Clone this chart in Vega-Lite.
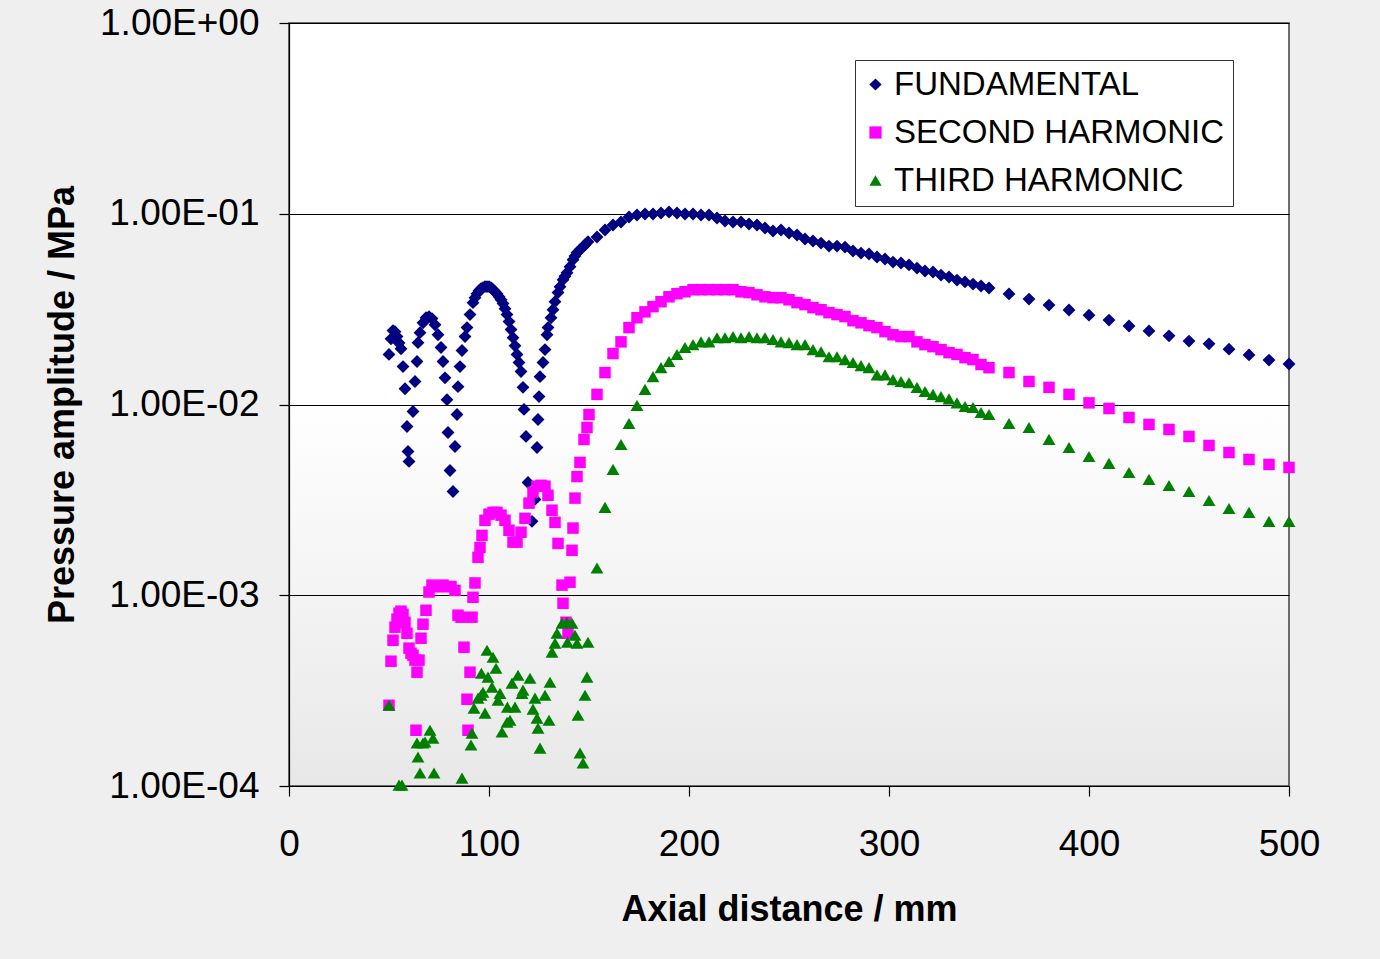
{
  "$schema": "https://vega.github.io/schema/vega-lite/v6.json",
  "width": 1000,
  "height": 763,
  "autosize": {"type": "none"},
  "padding": {"left": 289, "top": 23, "right": 91, "bottom": 173},
  "background": "#efefef",
  "config": {
    "font": "Liberation Sans",
    "view": {
      "fill": {"gradient": "linear", "x1": 0, "y1": 0, "x2": 0, "y2": 1,
        "stops": [{"offset": 0, "color": "#ffffff"}, {"offset": 0.49, "color": "#ffffff"}, {"offset": 1, "color": "#e8e8e8"}]},
      "stroke": "#404040",
      "strokeWidth": 1.5
    },
    "axis": {
      "labelFont": "Liberation Sans",
      "titleFont": "Liberation Sans",
      "labelColor": "#000000",
      "titleColor": "#000000",
      "labelFontSize": 37,
      "titleFontSize": 36,
      "titleFontWeight": "bold",
      "domainColor": "#000000",
      "domainWidth": 1.2,
      "tickColor": "#000000",
      "tickWidth": 1.2,
      "tickSize": 10,
      "labelFlush": false,
      "labelOverlap": false
    }
  },
  "encoding": {
    "x": {
      "field": "x", "type": "quantitative",
      "scale": {"domain": [0, 500], "nice": false, "zero": false},
      "axis": {"values": [0, 100, 200, 300, 400, 500], "grid": false, "labelPadding": 30, "titlePadding": 30, "title": "Axial distance / mm"}
    },
    "y": {
      "field": "p", "type": "quantitative",
      "scale": {"type": "log", "domain": [0.0001, 1], "nice": false},
      "axis": {
        "values": [0.0001, 0.001, 0.01, 0.1, 1],
        "grid": true, "gridColor": "#000000", "gridWidth": 1.2,
        "labelPadding": 20, "titlePadding": 18,
        "labelExpr": "datum.value >= 1 ? '1.00E+00' : '1.00E-0' + round(-log(datum.value) / LN10)",
        "title": "Pressure amplitude / MPa"
      }
    }
  },
  "layer": [
    {
      "data": {"values": [
        {"x": 50, "p": 0.0183}, {"x": 51, "p": 0.0221}, {"x": 52, "p": 0.0244}, {"x": 53, "p": 0.0241}, {"x": 54, "p": 0.0227}, {"x": 55, "p": 0.021}, {"x": 56, "p": 0.0196}, {"x": 57, "p": 0.0158}, {"x": 58, "p": 0.0121}, {"x": 59, "p": 0.00767}, {"x": 59.5, "p": 0.00567}, {"x": 60, "p": 0.00503},
        {"x": 62, "p": 0.00919}, {"x": 63, "p": 0.0132}, {"x": 64, "p": 0.0168}, {"x": 64.5, "p": 0.0211}, {"x": 65.5, "p": 0.0238}, {"x": 67, "p": 0.0268}, {"x": 68.5, "p": 0.0285}, {"x": 70, "p": 0.0289}, {"x": 71.5, "p": 0.0282}, {"x": 73, "p": 0.0262}, {"x": 74.5, "p": 0.0232}, {"x": 76, "p": 0.0199}, {"x": 77, "p": 0.0168}, {"x": 78, "p": 0.0138}, {"x": 79, "p": 0.0106}, {"x": 79.5, "p": 0.00713}, {"x": 80.5, "p": 0.00451}, {"x": 82, "p": 0.0035},
        {"x": 83, "p": 0.00602}, {"x": 84, "p": 0.00886}, {"x": 84.5, "p": 0.0124}, {"x": 85.5, "p": 0.0158}, {"x": 86.5, "p": 0.0192}, {"x": 88, "p": 0.0227}, {"x": 89, "p": 0.0253}, {"x": 90.5, "p": 0.0296}, {"x": 92, "p": 0.0342}, {"x": 93, "p": 0.0363}, {"x": 94, "p": 0.0381}, {"x": 95, "p": 0.0395}, {"x": 96, "p": 0.0405}, {"x": 97, "p": 0.041}, {"x": 98, "p": 0.0415}, {"x": 99, "p": 0.0415}, {"x": 100, "p": 0.0415}, {"x": 101, "p": 0.041}, {"x": 102, "p": 0.04}, {"x": 103, "p": 0.039}, {"x": 104, "p": 0.0381}, {"x": 105, "p": 0.0367}, {"x": 106, "p": 0.0354}, {"x": 107, "p": 0.0338}, {"x": 108, "p": 0.0318}, {"x": 109, "p": 0.0296}, {"x": 110, "p": 0.0272}, {"x": 111, "p": 0.0247}, {"x": 112, "p": 0.0224}, {"x": 113, "p": 0.0203}, {"x": 114, "p": 0.0183}, {"x": 115, "p": 0.0166}, {"x": 116, "p": 0.0149}, {"x": 117, "p": 0.0123}, {"x": 117.5, "p": 0.00942}, {"x": 118.5, "p": 0.0068}, {"x": 119.5, "p": 0.0039}, {"x": 121.5, "p": 0.00244},
        {"x": 123, "p": 0.00318}, {"x": 124, "p": 0.00595}, {"x": 124.5, "p": 0.00834}, {"x": 125, "p": 0.011}, {"x": 125.5, "p": 0.014}, {"x": 127, "p": 0.0166}, {"x": 128, "p": 0.0194}, {"x": 129, "p": 0.0232}, {"x": 129.5, "p": 0.0253}, {"x": 131, "p": 0.0285}, {"x": 132, "p": 0.0314}, {"x": 133, "p": 0.0346}, {"x": 134.5, "p": 0.0386}, {"x": 135.5, "p": 0.0414}, {"x": 137, "p": 0.0451}, {"x": 138, "p": 0.047}, {"x": 139, "p": 0.0491}, {"x": 140.5, "p": 0.0528}, {"x": 142, "p": 0.0574}, {"x": 143, "p": 0.06}, {"x": 144, "p": 0.0625}, {"x": 145.5, "p": 0.0648}, {"x": 147, "p": 0.067}, {"x": 148, "p": 0.0688}, {"x": 149.5, "p": 0.0713},
        {"x": 154, "p": 0.0755}, {"x": 158, "p": 0.0822}, {"x": 162, "p": 0.0873}, {"x": 166, "p": 0.0905}, {"x": 170, "p": 0.0961}, {"x": 174, "p": 0.0985}, {"x": 178, "p": 0.0997}, {"x": 182, "p": 0.0997}, {"x": 186, "p": 0.1009}, {"x": 190, "p": 0.1021}, {"x": 194, "p": 0.1009}, {"x": 198, "p": 0.0997}, {"x": 202, "p": 0.0997}, {"x": 206, "p": 0.0985}, {"x": 210, "p": 0.0985}, {"x": 214, "p": 0.095}, {"x": 218, "p": 0.0916}, {"x": 222, "p": 0.0905}, {"x": 226, "p": 0.0905}, {"x": 230, "p": 0.0884}, {"x": 234, "p": 0.0873}, {"x": 238, "p": 0.0842}, {"x": 242, "p": 0.0812}, {"x": 246, "p": 0.0822}, {"x": 250, "p": 0.0793}, {"x": 254, "p": 0.0774}, {"x": 258, "p": 0.0737}, {"x": 262, "p": 0.072}, {"x": 266, "p": 0.0702}, {"x": 270, "p": 0.0677}, {"x": 274, "p": 0.0677}, {"x": 278, "p": 0.0669}, {"x": 282, "p": 0.0638}, {"x": 286, "p": 0.0622}, {"x": 290, "p": 0.0615}, {"x": 294, "p": 0.0593}, {"x": 298, "p": 0.0579}, {"x": 302, "p": 0.0558}, {"x": 306, "p": 0.0552}, {"x": 310, "p": 0.0539}, {"x": 314, "p": 0.0519}, {"x": 318, "p": 0.0501}, {"x": 322, "p": 0.0495}, {"x": 326, "p": 0.0477}, {"x": 330, "p": 0.0466}, {"x": 334, "p": 0.0449}, {"x": 338, "p": 0.0439}, {"x": 342, "p": 0.0428}, {"x": 346, "p": 0.0418}, {"x": 350, "p": 0.0408},
        {"x": 360, "p": 0.038}, {"x": 370, "p": 0.0357}, {"x": 380, "p": 0.0332}, {"x": 390, "p": 0.0313}, {"x": 400, "p": 0.0294}, {"x": 410, "p": 0.0277}, {"x": 420, "p": 0.0258}, {"x": 430, "p": 0.0243}, {"x": 440, "p": 0.0229}, {"x": 450, "p": 0.0215}, {"x": 460, "p": 0.0208}, {"x": 470, "p": 0.0195}, {"x": 480, "p": 0.0182}, {"x": 490, "p": 0.0171}, {"x": 500, "p": 0.0163}
      ]},
      "mark": {"type": "point", "filled": true, "size": 165, "opacity": 1, "strokeWidth": 0},
      "encoding": {
        "color": {
          "datum": "FUNDAMENTAL", "type": "nominal",
          "scale": {"domain": ["FUNDAMENTAL", "SECOND HARMONIC", "THIRD HARMONIC"], "range": ["#000080", "#ff00ff", "#008000"]},
          "legend": {
            "title": null, "orient": "none", "legendX": 566, "legendY": 37,
            "padding": 8, "strokeColor": "#333333", "fillColor": "#ffffff",
            "labelFont": "Liberation Sans", "labelFontSize": 33, "labelColor": "#000000", "labelLimit": 0,
            "symbolSize": 150, "symbolOffset": -4, "labelOffset": 2, "rowPadding": 14, "symbolStrokeWidth": 0
          }
        },
        "shape": {
          "datum": "FUNDAMENTAL", "type": "nominal",
          "scale": {"domain": ["FUNDAMENTAL", "SECOND HARMONIC", "THIRD HARMONIC"], "range": ["diamond", "square", "triangle-up"]}
        }
      }
    },
    {
      "data": {"values": [
        {"x": 50, "p": 0.000265}, {"x": 51, "p": 0.000451}, {"x": 52, "p": 0.000581}, {"x": 53, "p": 0.00068}, {"x": 54, "p": 0.000749}, {"x": 55, "p": 0.000805}, {"x": 56, "p": 0.000825}, {"x": 57, "p": 0.000795}, {"x": 58, "p": 0.000722}, {"x": 59, "p": 0.000632}, {"x": 60, "p": 0.000528}, {"x": 61, "p": 0.000497}, {"x": 62, "p": 0.000485}, {"x": 63, "p": 0.000457}, {"x": 63.5, "p": 0.000196}, {"x": 64, "p": 0.000395}, {"x": 65, "p": 0.000457}, {"x": 66, "p": 0.000595}, {"x": 67, "p": 0.000705}, {"x": 68.5, "p": 0.000834}, {"x": 70, "p": 0.00104}, {"x": 71.5, "p": 0.00113}, {"x": 73, "p": 0.00111}, {"x": 75, "p": 0.00111}, {"x": 77, "p": 0.00113}, {"x": 79, "p": 0.00111}, {"x": 81, "p": 0.00111}, {"x": 83, "p": 0.00106}, {"x": 84.5, "p": 0.000786}, {"x": 86, "p": 0.000767}, {"x": 87.5, "p": 0.000534}, {"x": 89, "p": 0.000285}, {"x": 89.5, "p": 0.000196}, {"x": 90.5, "p": 0.000395}, {"x": 91.5, "p": 0.000767}, {"x": 92, "p": 0.000976}, {"x": 93, "p": 0.00116}, {"x": 94.5, "p": 0.00158}, {"x": 95.5, "p": 0.00178}, {"x": 96.5, "p": 0.00206}, {"x": 98, "p": 0.00247}, {"x": 100, "p": 0.00266}, {"x": 102, "p": 0.00272}, {"x": 104, "p": 0.00272}, {"x": 106, "p": 0.00263}, {"x": 108, "p": 0.00247}, {"x": 110, "p": 0.00219}, {"x": 112, "p": 0.0019}, {"x": 114, "p": 0.0019}, {"x": 116, "p": 0.00214}, {"x": 118, "p": 0.00253}, {"x": 120, "p": 0.00304}, {"x": 122, "p": 0.00347}, {"x": 124, "p": 0.00373}, {"x": 126, "p": 0.00377}, {"x": 128, "p": 0.00373}, {"x": 129.5, "p": 0.00334}, {"x": 131.5, "p": 0.00279}, {"x": 133, "p": 0.00241}, {"x": 134.5, "p": 0.00187}, {"x": 136.5, "p": 0.00113}, {"x": 137, "p": 0.000908}, {"x": 138.5, "p": 0.000722}, {"x": 139.5, "p": 0.000632}, {"x": 140.5, "p": 0.00117}, {"x": 141.5, "p": 0.00172}, {"x": 142, "p": 0.00225}, {"x": 143, "p": 0.00323}, {"x": 144, "p": 0.00419}, {"x": 145.5, "p": 0.00497}, {"x": 147.5, "p": 0.00656}, {"x": 149, "p": 0.00758}, {"x": 150, "p": 0.00886},
        {"x": 154, "p": 0.0113}, {"x": 158, "p": 0.0147}, {"x": 162, "p": 0.0185}, {"x": 166, "p": 0.0213}, {"x": 170, "p": 0.0253}, {"x": 174, "p": 0.0285}, {"x": 178, "p": 0.0306}, {"x": 182, "p": 0.0326}, {"x": 186, "p": 0.0346}, {"x": 190, "p": 0.0367}, {"x": 194, "p": 0.0381}, {"x": 198, "p": 0.039}, {"x": 202, "p": 0.04}, {"x": 206, "p": 0.04}, {"x": 210, "p": 0.04}, {"x": 214, "p": 0.04}, {"x": 218, "p": 0.04}, {"x": 222, "p": 0.04}, {"x": 226, "p": 0.039}, {"x": 230, "p": 0.0386}, {"x": 234, "p": 0.0376}, {"x": 238, "p": 0.0367}, {"x": 242, "p": 0.0363}, {"x": 246, "p": 0.0363}, {"x": 250, "p": 0.0354}, {"x": 254, "p": 0.0342}, {"x": 258, "p": 0.0334}, {"x": 262, "p": 0.0322}, {"x": 266, "p": 0.0314}, {"x": 270, "p": 0.0303}, {"x": 274, "p": 0.0296}, {"x": 278, "p": 0.0289}, {"x": 282, "p": 0.0275}, {"x": 286, "p": 0.0268}, {"x": 290, "p": 0.0259}, {"x": 294, "p": 0.0253}, {"x": 298, "p": 0.0241}, {"x": 302, "p": 0.0232}, {"x": 306, "p": 0.0227}, {"x": 310, "p": 0.0227}, {"x": 314, "p": 0.0213}, {"x": 318, "p": 0.0206}, {"x": 322, "p": 0.0201}, {"x": 326, "p": 0.0194}, {"x": 330, "p": 0.0187}, {"x": 334, "p": 0.0183}, {"x": 338, "p": 0.0176}, {"x": 342, "p": 0.0172}, {"x": 346, "p": 0.0162}, {"x": 350, "p": 0.0156},
        {"x": 360, "p": 0.0147}, {"x": 370, "p": 0.0132}, {"x": 380, "p": 0.0123}, {"x": 390, "p": 0.0113}, {"x": 400, "p": 0.0102}, {"x": 410, "p": 0.00953}, {"x": 420, "p": 0.00855}, {"x": 430, "p": 0.00786}, {"x": 440, "p": 0.0074}, {"x": 450, "p": 0.0068}, {"x": 460, "p": 0.0061}, {"x": 470, "p": 0.0056}, {"x": 480, "p": 0.00515}, {"x": 490, "p": 0.00485}, {"x": 500, "p": 0.00468}
      ]},
      "mark": {"type": "point", "filled": true, "size": 132, "opacity": 1, "strokeWidth": 0},
      "encoding": {
        "color": {"datum": "SECOND HARMONIC", "type": "nominal"},
        "shape": {"datum": "SECOND HARMONIC", "type": "nominal"}
      }
    },
    {
      "data": {"values": [
        {"x": 50, "p": 0.000265}, {"x": 55, "p": 0.000101}, {"x": 56.5, "p": 0.000101}, {"x": 64, "p": 0.000168}, {"x": 64.5, "p": 0.000142}, {"x": 65.5, "p": 0.000117}, {"x": 67, "p": 0.000168}, {"x": 68, "p": 0.00017}, {"x": 70.5, "p": 0.000196}, {"x": 72, "p": 0.000178}, {"x": 72.5, "p": 0.000117}, {"x": 86.5, "p": 0.00011}, {"x": 91, "p": 0.000164}, {"x": 91.5, "p": 0.000189}, {"x": 92.5, "p": 0.000256}, {"x": 94.5, "p": 0.000289}, {"x": 96, "p": 0.000299}, {"x": 96.2, "p": 0.00039}, {"x": 97, "p": 0.00031}, {"x": 98, "p": 0.000241}, {"x": 99, "p": 0.000515}, {"x": 99.5, "p": 0.000372}, {"x": 101.5, "p": 0.00033}, {"x": 102, "p": 0.000473}, {"x": 103.5, "p": 0.000414}, {"x": 104.5, "p": 0.000282}, {"x": 105.5, "p": 0.000306}, {"x": 106.5, "p": 0.000192}, {"x": 109, "p": 0.000216}, {"x": 109.2, "p": 0.000259}, {"x": 110.5, "p": 0.000221}, {"x": 111.5, "p": 0.000346}, {"x": 113, "p": 0.000259}, {"x": 114.5, "p": 0.000381}, {"x": 116.5, "p": 0.000306}, {"x": 117, "p": 0.000318}, {"x": 120.5, "p": 0.000367}, {"x": 122, "p": 0.000253}, {"x": 123, "p": 0.000289}, {"x": 124, "p": 0.000227}, {"x": 124.5, "p": 0.000201}, {"x": 125.5, "p": 0.000158}, {"x": 128, "p": 0.000299}, {"x": 130, "p": 0.000221}, {"x": 130.5, "p": 0.00035}, {"x": 131.5, "p": 0.000503}, {"x": 133, "p": 0.00056}, {"x": 134, "p": 0.000632}, {"x": 136.5, "p": 0.000713}, {"x": 139, "p": 0.000722}, {"x": 139.2, "p": 0.000567}, {"x": 141.5, "p": 0.000713}, {"x": 143, "p": 0.000617}, {"x": 144, "p": 0.00056}, {"x": 144.5, "p": 0.000235}, {"x": 145.5, "p": 0.000149}, {"x": 147, "p": 0.000132}, {"x": 148, "p": 0.000299}, {"x": 149, "p": 0.000372}, {"x": 149.5, "p": 0.000567},
        {"x": 154, "p": 0.00139}, {"x": 158, "p": 0.00289}, {"x": 162, "p": 0.00457}, {"x": 166, "p": 0.00617}, {"x": 170, "p": 0.00795}, {"x": 174, "p": 0.0099}, {"x": 178, "p": 0.012}, {"x": 182, "p": 0.014}, {"x": 186, "p": 0.0156}, {"x": 190, "p": 0.0168}, {"x": 194, "p": 0.0183}, {"x": 198, "p": 0.0199}, {"x": 202, "p": 0.0206}, {"x": 206, "p": 0.0213}, {"x": 210, "p": 0.0213}, {"x": 214, "p": 0.0224}, {"x": 218, "p": 0.0224}, {"x": 222, "p": 0.0227}, {"x": 226, "p": 0.0224}, {"x": 230, "p": 0.0227}, {"x": 234, "p": 0.0224}, {"x": 238, "p": 0.0224}, {"x": 242, "p": 0.0219}, {"x": 246, "p": 0.0213}, {"x": 250, "p": 0.0211}, {"x": 254, "p": 0.0206}, {"x": 258, "p": 0.0206}, {"x": 262, "p": 0.0194}, {"x": 266, "p": 0.0189}, {"x": 270, "p": 0.0178}, {"x": 274, "p": 0.0178}, {"x": 278, "p": 0.0172}, {"x": 282, "p": 0.0166}, {"x": 286, "p": 0.016}, {"x": 290, "p": 0.0156}, {"x": 294, "p": 0.0143}, {"x": 298, "p": 0.0143}, {"x": 302, "p": 0.0135}, {"x": 306, "p": 0.0132}, {"x": 310, "p": 0.013}, {"x": 314, "p": 0.0123}, {"x": 318, "p": 0.0117}, {"x": 322, "p": 0.0113}, {"x": 326, "p": 0.011}, {"x": 330, "p": 0.0107}, {"x": 334, "p": 0.0102}, {"x": 338, "p": 0.00976}, {"x": 342, "p": 0.00964}, {"x": 346, "p": 0.00908}, {"x": 350, "p": 0.00886},
        {"x": 360, "p": 0.00795}, {"x": 370, "p": 0.00758}, {"x": 380, "p": 0.00656}, {"x": 390, "p": 0.00595}, {"x": 400, "p": 0.00534}, {"x": 410, "p": 0.00491}, {"x": 420, "p": 0.0044}, {"x": 430, "p": 0.00405}, {"x": 440, "p": 0.00376}, {"x": 450, "p": 0.0035}, {"x": 460, "p": 0.00314}, {"x": 470, "p": 0.00285}, {"x": 480, "p": 0.00272}, {"x": 490, "p": 0.00244}, {"x": 500, "p": 0.00244}
      ]},
      "mark": {"type": "point", "filled": true, "size": 165, "opacity": 1, "strokeWidth": 0},
      "encoding": {
        "color": {"datum": "THIRD HARMONIC", "type": "nominal"},
        "shape": {"datum": "THIRD HARMONIC", "type": "nominal"}
      }
    }
  ]
}
